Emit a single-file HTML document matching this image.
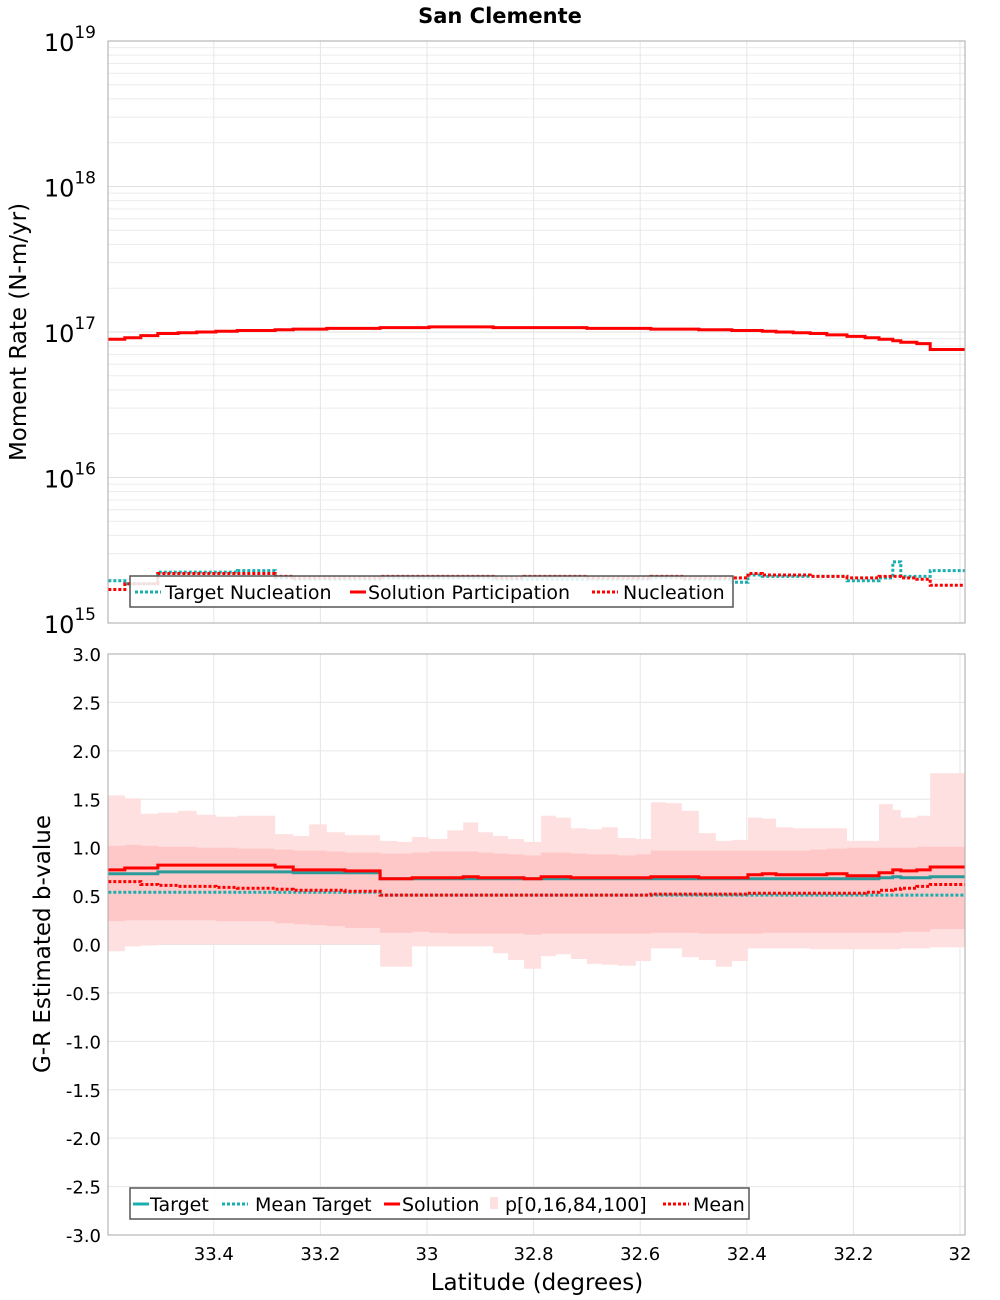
<!DOCTYPE html>
<html><head><meta charset="utf-8"><style>
html,body{margin:0;padding:0;background:#fff}
svg{display:block;font-family:"DejaVu Sans","Liberation Sans",sans-serif}
</style></head><body>
<svg id="chart" width="1000" height="1300" xmlns="http://www.w3.org/2000/svg">
<text x="500" y="23" text-anchor="middle" font-size="21" font-weight="bold">San Clemente</text>
<g id="topPanel"></g>
<g id="botPanel"></g>
</svg>
<script>
const edges=[33.598,33.567,33.537,33.505,33.467,33.432,33.396,33.356,33.285,33.251,33.221,33.188,33.154,33.088,33.056,33.028,32.996,32.962,32.932,32.904,32.876,32.848,32.818,32.786,32.758,32.730,32.700,32.672,32.642,32.608,32.580,32.552,32.522,32.490,32.458,32.428,32.398,32.371,32.345,32.313,32.281,32.250,32.212,32.178,32.152,32.126,32.111,32.081,32.056,31.991];
const p100=[1.54,1.51,1.35,1.36,1.38,1.34,1.32,1.33,1.14,1.12,1.24,1.16,1.13,1.07,1.06,1.11,1.09,1.18,1.26,1.16,1.12,1.09,1.06,1.33,1.31,1.20,1.19,1.21,1.10,1.09,1.47,1.46,1.38,1.15,1.07,1.08,1.31,1.30,1.21,1.20,1.20,1.20,1.07,1.07,1.45,1.39,1.31,1.33,1.77];
const p0=[-0.07,-0.02,-0.01,0,0,0,0,0,0,0,0,0,0,-0.23,-0.23,-0.02,-0.02,-0.02,-0.02,-0.02,-0.09,-0.16,-0.25,-0.12,-0.10,-0.15,-0.20,-0.21,-0.22,-0.17,-0.04,-0.04,-0.13,-0.16,-0.23,-0.17,-0.04,-0.04,-0.04,-0.04,-0.05,-0.05,-0.05,-0.05,-0.05,-0.05,-0.04,-0.04,-0.03];
const p84=[1.02,1.03,1.02,1.01,1.01,1.0,1.0,0.99,0.98,0.97,0.97,0.96,0.95,0.94,0.94,0.95,0.96,0.96,0.96,0.95,0.94,0.93,0.92,0.95,0.95,0.94,0.93,0.93,0.92,0.93,0.97,0.97,0.97,0.97,0.97,0.97,0.97,0.97,0.97,0.97,0.98,0.99,1.0,1.0,1.0,1.0,1.0,1.01,1.01];
const p16=[0.24,0.25,0.25,0.25,0.25,0.25,0.24,0.24,0.22,0.21,0.20,0.19,0.17,0.12,0.12,0.13,0.12,0.11,0.11,0.11,0.11,0.11,0.10,0.11,0.11,0.11,0.11,0.11,0.11,0.11,0.12,0.12,0.12,0.11,0.11,0.11,0.11,0.12,0.12,0.12,0.12,0.12,0.12,0.12,0.12,0.12,0.13,0.13,0.16];
const solutionB=[0.77,0.79,0.79,0.82,0.82,0.82,0.82,0.82,0.80,0.77,0.77,0.77,0.76,0.68,0.68,0.69,0.69,0.69,0.70,0.69,0.69,0.69,0.68,0.70,0.70,0.69,0.69,0.69,0.69,0.69,0.70,0.70,0.70,0.69,0.69,0.69,0.72,0.73,0.72,0.72,0.72,0.73,0.71,0.71,0.74,0.77,0.76,0.77,0.80];
const targetB=[0.73,0.73,0.73,0.75,0.75,0.75,0.75,0.75,0.75,0.74,0.74,0.74,0.74,0.68,0.68,0.68,0.68,0.68,0.68,0.68,0.68,0.68,0.68,0.68,0.68,0.68,0.68,0.68,0.68,0.68,0.68,0.68,0.68,0.68,0.68,0.68,0.68,0.68,0.68,0.68,0.68,0.68,0.68,0.68,0.69,0.70,0.69,0.69,0.70];
const meanB=[0.65,0.65,0.62,0.61,0.60,0.60,0.59,0.58,0.57,0.56,0.56,0.56,0.55,0.51,0.51,0.51,0.51,0.51,0.51,0.51,0.51,0.51,0.51,0.51,0.51,0.51,0.51,0.51,0.51,0.51,0.52,0.52,0.52,0.52,0.52,0.52,0.53,0.53,0.53,0.53,0.53,0.53,0.53,0.54,0.56,0.57,0.58,0.60,0.62];
const meanTargetB=[0.54,0.54,0.54,0.54,0.54,0.54,0.54,0.54,0.54,0.54,0.54,0.54,0.54,0.51,0.51,0.51,0.51,0.51,0.51,0.51,0.51,0.51,0.51,0.51,0.51,0.51,0.51,0.51,0.51,0.51,0.51,0.51,0.51,0.51,0.51,0.51,0.51,0.51,0.51,0.51,0.51,0.51,0.51,0.51,0.51,0.51,0.51,0.51,0.51];
const partLog=[16.95,16.96,16.975,16.99,16.995,17.0,17.005,17.01,17.015,17.02,17.02,17.025,17.025,17.03,17.03,17.03,17.035,17.035,17.035,17.035,17.03,17.03,17.03,17.03,17.03,17.03,17.025,17.025,17.025,17.025,17.02,17.02,17.02,17.015,17.015,17.01,17.01,17.005,17.0,16.995,16.99,16.98,16.97,16.96,16.95,16.94,16.93,16.92,16.88];
const nuclLog=[15.23,15.27,15.27,15.34,15.34,15.34,15.34,15.34,15.32,15.31,15.31,15.31,15.31,15.32,15.32,15.32,15.32,15.32,15.32,15.32,15.31,15.31,15.32,15.32,15.32,15.32,15.31,15.31,15.31,15.31,15.32,15.32,15.31,15.31,15.31,15.31,15.34,15.33,15.33,15.33,15.32,15.32,15.31,15.31,15.32,15.32,15.31,15.30,15.26];
const targetNuclLog=[15.29,15.27,15.27,15.35,15.35,15.35,15.35,15.36,15.31,15.30,15.30,15.30,15.30,15.31,15.31,15.31,15.31,15.31,15.31,15.31,15.30,15.30,15.30,15.30,15.30,15.30,15.30,15.30,15.30,15.30,15.31,15.31,15.30,15.30,15.30,15.28,15.33,15.32,15.32,15.32,15.32,15.32,15.29,15.29,15.31,15.42,15.32,15.32,15.36];
const xTicks=[33.4,33.2,33,32.8,32.6,32.4,32.2,32];
const xTickLabels=["33.4","33.2","33","32.8","32.6","32.4","32.2","32"];
const bTicks=[3,2.5,2,1.5,1,0.5,0,-0.5,-1,-1.5,-2,-2.5,-3];
const logTicks=[19,18,17,16,15];

const NS="http://www.w3.org/2000/svg";
const L=108,R=965,T1=41,B1=623,T2=654,B2=1235;
const X=v=>427+(33-v)*533;
const Y1=lg=>T1+(19-lg)*(B1-T1)/4;
const Y2=v=>T2+(3-v)*(B2-T2)/6;
function mk(p,tag,at,txt){const e=document.createElementNS(NS,tag);for(const k in at)e.setAttribute(k,at[k]);if(txt!==undefined)e.textContent=txt;p.appendChild(e);return e;}
function stepPath(vals,yf){let d="";for(let i=0;i<vals.length;i++){const x0=X(edges[i]),x1=X(edges[i+1]),y=yf(vals[i]);d+=(i?"L":"M")+x0.toFixed(1)+","+y.toFixed(1)+"L"+x1.toFixed(1)+","+y.toFixed(1);}return d;}
function bandPath(lo,hi,yf){let d="";for(let i=0;i<hi.length;i++){d+=(i?"L":"M")+X(edges[i]).toFixed(1)+","+yf(hi[i]).toFixed(1)+"L"+X(edges[i+1]).toFixed(1)+","+yf(hi[i]).toFixed(1);}for(let i=lo.length-1;i>=0;i--){d+="L"+X(edges[i+1]).toFixed(1)+","+yf(lo[i]).toFixed(1)+"L"+X(edges[i]).toFixed(1)+","+yf(lo[i]).toFixed(1);}return d+"Z";}

// TOP PANEL
const topG=document.getElementById('topPanel');
mk(topG,'rect',{x:L,y:T1,width:R-L,height:B1-T1,fill:'#fff'});
for(let dcd=15;dcd<19;dcd++){for(let m=2;m<10;m++){const y=Y1(dcd+Math.log10(m));const g=mk(topG,'line',{x1:L,x2:R,y1:y,y2:y,stroke:'#ececec','stroke-width':1});

}}
logTicks.forEach(t=>{const y=Y1(t);const g=mk(topG,'line',{x1:L,x2:R,y1:y,y2:y,stroke:'#e0e0e0','stroke-width':1});
 
 
 const tx=mk(topG,'text',{x:96,y:y+10,'text-anchor':'end','font-size':24});
 
 
 mk(tx,'tspan',{},'10');mk(tx,'tspan',{dy:-13,'font-size':17},String(t));});
xTicks.forEach(t=>{const g=mk(topG,'line',{x1:X(t),x2:X(t),y1:T1,y2:B1,stroke:'#e6e6e6'});
 
 });
let p=mk(topG,'path',{d:stepPath(targetNuclLog,Y1),fill:'none',stroke:'#1aafaf','stroke-width':3,'stroke-dasharray':'3,2'});


p=mk(topG,'path',{d:stepPath(nuclLog,Y1),fill:'none',stroke:'#ff0000','stroke-width':3,'stroke-dasharray':'3,2'});


p=mk(topG,'path',{d:stepPath(partLog,Y1),fill:'none',stroke:'#ff0000','stroke-width':3});


mk(topG,'rect',{x:L,y:T1,width:R-L,height:B1-T1,fill:'none',stroke:'#aaa','stroke-width':1});
const t1=mk(topG,'text',{x:26,y:332,'text-anchor':'middle','font-size':23,transform:'rotate(-90 26 332)'},'Moment Rate (N-m/yr)');


const lg1=mk(topG,'g',{});


mk(lg1,'rect',{x:130,y:576,width:603,height:31,fill:'rgba(255,255,255,0.85)',stroke:'#555','stroke-width':1.5});
[[135,'#1aafaf','3,2','Target Nucleation',165],[350,'#ff0000',null,'Solution Participation',368],[592,'#ff0000','3,2','Nucleation',623]].forEach(e=>{
 const g=mk(lg1,'g',{});
 
 
 const a={x1:e[0],x2:e[0]+(e[2]?26:16),y1:592,y2:592,stroke:e[1],'stroke-width':3};if(e[2])a['stroke-dasharray']=e[2];mk(g,'line',a);
 mk(g,'text',{x:e[4],y:599,'font-size':19},e[3]);});

// BOTTOM PANEL
const botG=document.getElementById('botPanel');
mk(botG,'rect',{x:L,y:T2,width:R-L,height:B2-T2,fill:'#fff'});
bTicks.forEach(t=>{const y=Y2(t);const g=mk(botG,'line',{x1:L,x2:R,y1:y,y2:y,stroke:'#e6e6e6'});
 
 
 const tx=mk(botG,'text',{x:101,y:y+7,'text-anchor':'end','font-size':18},t.toFixed(1));
 
 });
xTicks.forEach((t,i)=>{const g=mk(botG,'line',{x1:X(t),x2:X(t),y1:T2,y2:B2,stroke:'#e6e6e6'});
 
 
 const tx=mk(botG,'text',{x:X(t),y:1260,'text-anchor':'middle','font-size':18},xTickLabels[i]);
 
 });
p=mk(botG,'path',{d:bandPath(p0,p100,Y2),fill:'#ffe0e0'});


p=mk(botG,'path',{d:bandPath(p16,p84,Y2),fill:'#ffc8c8'});


p=mk(botG,'path',{d:stepPath(meanTargetB,Y2),fill:'none',stroke:'#1aafaf','stroke-width':3,'stroke-dasharray':'3,2'});


p=mk(botG,'path',{d:stepPath(meanB,Y2),fill:'none',stroke:'#ff0000','stroke-width':3,'stroke-dasharray':'3,2'});


p=mk(botG,'path',{d:stepPath(targetB,Y2),fill:'none',stroke:'#2a9a9a','stroke-width':3});


p=mk(botG,'path',{d:stepPath(solutionB,Y2),fill:'none',stroke:'#ff0000','stroke-width':3});


mk(botG,'rect',{x:L,y:T2,width:R-L,height:B2-T2,fill:'none',stroke:'#aaa','stroke-width':1});
const t2=mk(botG,'text',{x:50,y:944,'text-anchor':'middle','font-size':23,transform:'rotate(-90 50 944)'},'G-R Estimated b-value');


const t3=mk(botG,'text',{x:537,y:1290,'text-anchor':'middle','font-size':23},'Latitude (degrees)');


const lg2=mk(botG,'g',{});


mk(lg2,'rect',{x:130,y:1188,width:619,height:31,fill:'rgba(255,255,255,0.85)',stroke:'#555','stroke-width':1.5});
[[133,'#1aafaf',null,'Target',150,'l'],[222,'#1aafaf','3,2','Mean Target',255,'l'],[384,'#ff0000',null,'Solution',402,'l'],[490,'#ffe0e0',null,'p[0,16,84,100]',505,'r'],[663,'#ff0000','3,2','Mean',693,'l']].forEach(e=>{
 const g=mk(lg2,'g',{});
 
 
 if(e[5]==='r'){mk(g,'rect',{x:e[0],y:1197,width:8,height:12,fill:e[1]});}
 else{const a={x1:e[0],x2:e[0]+(e[2]?26:16),y1:1204,y2:1204,stroke:e[1],'stroke-width':3};if(e[2])a['stroke-dasharray']=e[2];mk(g,'line',a);}
 mk(g,'text',{x:e[4],y:1211,'font-size':19},e[3]);});
</script>
</body></html>
